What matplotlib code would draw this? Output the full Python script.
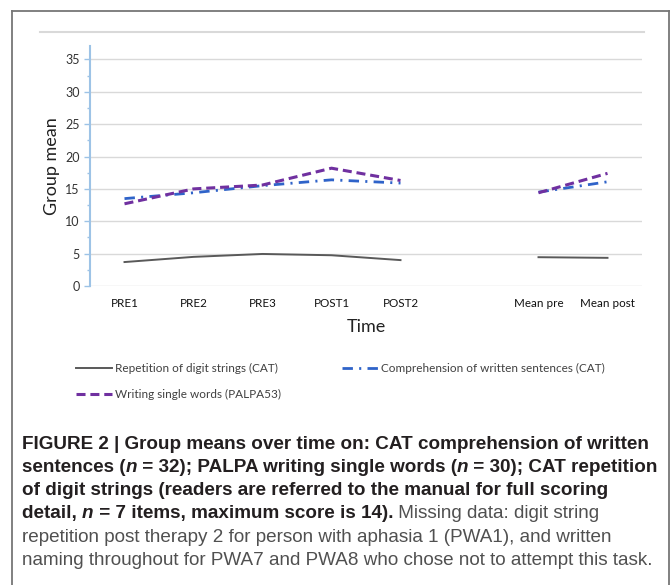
import matplotlib
matplotlib.use('Agg')
import numpy as np
import matplotlib.pyplot as plt
from matplotlib.lines import Line2D
from matplotlib.ticker import MultipleLocator
from matplotlib.transforms import IdentityTransform

plt.rcParams['lines.scale_dashes'] = False

categories = ['PRE1', 'PRE2', 'PRE3', 'POST1', 'POST2', '', 'Mean pre', 'Mean post']
repetition = [3.7, 4.5, 4.95, 4.75, 4.0, np.nan, 4.45, 4.35]
comprehension = [13.5, 14.4, 15.5, 16.4, 15.9, np.nan, 14.5, 16.1]
writing = [12.7, 15.0, 15.6, 18.2, 16.3, np.nan, 14.4, 17.4]
series_labels = ['Repetition of digit strings (CAT)',
                 'Comprehension of written sentences (CAT)',
                 'Writing single words (PALPA53)']
yticks = [0, 5, 10, 15, 20, 25, 30, 35]

W, H = 671, 585
fig = plt.figure(figsize=(W / 100, H / 100), dpi=100)

def fx(px):
    return px / W

def fy(py):
    return 1 - py / H

# outer frame (left, top, right)
frame_c = '#767676'
fig.add_artist(Line2D([fx(12), fx(12)], [0, fy(11)], color=frame_c, lw=1.3))
fig.add_artist(Line2D([fx(12), fx(669)], [fy(11), fy(11)], color=frame_c, lw=1.3))
fig.add_artist(Line2D([fx(669), fx(669)], [0, fy(11)], color=frame_c, lw=1.3))
# chart-area top rule
fig.add_artist(Line2D([fx(40), fx(644)], [fy(32), fy(32)], color='#d9d9d9', lw=1.5))

ax = fig.add_axes([fx(90), fy(286), (642 - 90) / W, (286 - 46.5) / H])
x = np.arange(len(categories))
ax.plot(x, repetition, color='#595959', lw=1.4, zorder=3, label=series_labels[0])
ax.plot(x, comprehension, color='#2f63c9', lw=2.0, dashes=(7.5, 4.5, 1.5, 4.5),
        zorder=4, label=series_labels[1])
ax.plot(x, writing, color='#7030a0', lw=2.2, dashes=(6.5, 3.5), zorder=5,
        label=series_labels[2])

ax.set_xlim(-0.5, len(categories) - 0.5)
ax.set_ylim(0, 37)
ax.set_xticks(x)
ax.set_xticklabels(categories, fontsize=8.4, family='Lato', color='#111111')
ax.set_yticks(yticks)
ax.set_yticklabels([str(v) for v in yticks], fontsize=9, family='Lato', color='#333333')
ax.yaxis.set_minor_locator(MultipleLocator(2.5))
ax.tick_params(axis='x', length=0, pad=8.5)
ax.tick_params(axis='y', which='major', length=4.5, width=1, color='#9dc3e6', pad=3)
ax.tick_params(axis='y', which='minor', length=2, width=1, color='#9dc3e6')
for s in ['top', 'right', 'bottom']:
    ax.spines[s].set_visible(False)
ax.spines['left'].set_color('#9dc3e6')
ax.spines['left'].set_linewidth(1.5)
ax.yaxis.grid(True, which='major', color='#d9d9d9', lw=1.0)
ax.set_axisbelow(True)
ax.set_ylabel('Group mean', fontsize=13, family='Lato', color='#222222', labelpad=4)
ax.set_xlabel('Time', fontsize=13, family='Lato', color='#222222', labelpad=7)

h = ax.get_lines()
fig.legend([h[0], h[2], h[1]], [series_labels[0], series_labels[2], series_labels[1]],
           loc='upper left', bbox_to_anchor=(fx(76), fy(363)), ncol=2, frameon=False,
           prop={'family': 'Lato', 'size': 8.5}, labelcolor='#404040',
           handlelength=3.05, handletextpad=0.25, columnspacing=5.2,
           labelspacing=1.3, borderpad=0, borderaxespad=0)

# caption
BOLD_C = '#231f20'
REG_C = '#505050'
cap_lines = [
    [('FIGURE 2 | Group means over time on: CAT comprehension of written', 'bold', 'normal', BOLD_C)],
    [('sentences (', 'bold', 'normal', BOLD_C), ('n', 'bold', 'italic', BOLD_C),
     (' = 32); PALPA writing single words (', 'bold', 'normal', BOLD_C), ('n', 'bold', 'italic', BOLD_C),
     (' = 30); CAT repetition', 'bold', 'normal', BOLD_C)],
    [('of digit strings (readers are referred to the manual for full scoring', 'bold', 'normal', BOLD_C)],
    [('detail, ', 'bold', 'normal', BOLD_C), ('n', 'bold', 'italic', BOLD_C),
     (' = 7 items, maximum score is 14).', 'bold', 'normal', BOLD_C),
     (' Missing data: digit string', 'normal', 'normal', REG_C)],
    [('repetition post therapy 2 for person with aphasia 1 (PWA1), and written', 'normal', 'normal', REG_C)],
    [('naming throughout for PWA7 and PWA8 who chose not to attempt this task.', 'normal', 'normal', REG_C)],
]
renderer = fig.canvas.get_renderer()
probe = fig.text(0, 0, cap_lines[0][0][0], fontsize=10, fontweight='bold', family='Liberation Sans')
pw = probe.get_window_extent(renderer).width
probe.remove()
cap_size = 10 * 627 / pw
baselines = [449, 472, 495, 518, 542, 565]
for line, yb in zip(cap_lines, baselines):
    xpos = 22
    for txt, wt, st, col in line:
        t = fig.text(xpos, H - yb, txt, fontsize=cap_size, fontweight=wt, fontstyle=st,
                     color=col, family='Liberation Sans', va='baseline',
                     transform=IdentityTransform())
        xpos = t.get_window_extent(renderer).x1

fig.savefig('out.png', dpi=100)
